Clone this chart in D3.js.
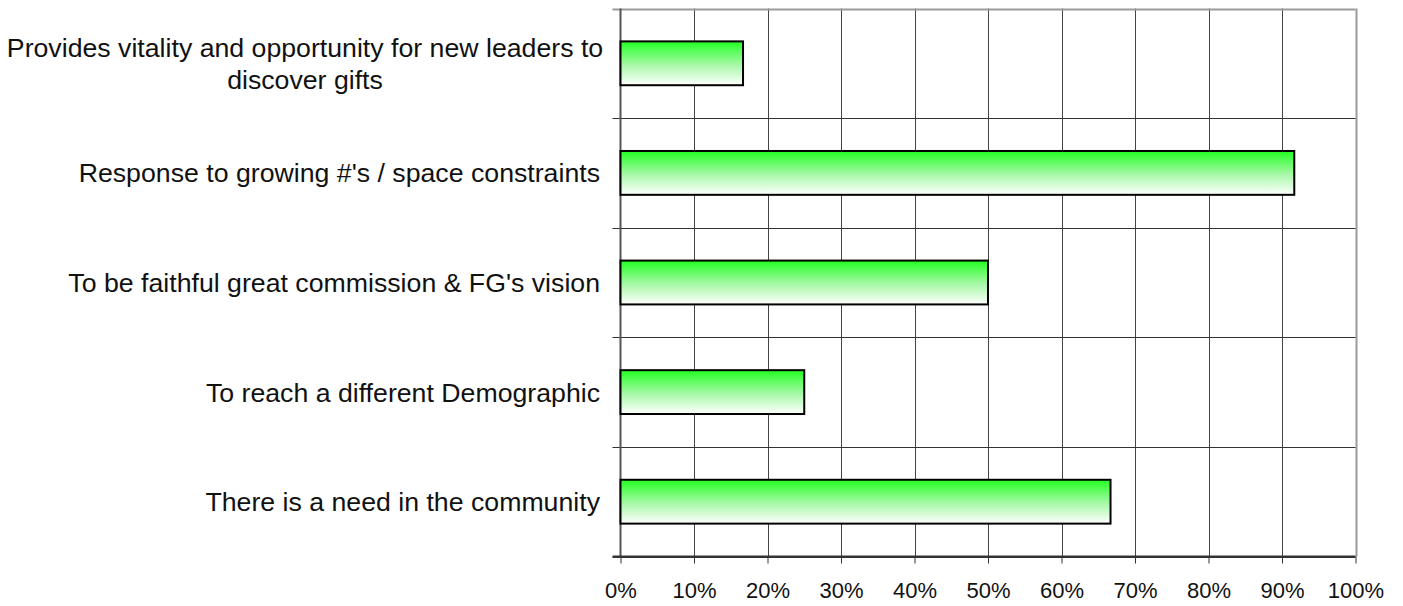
<!DOCTYPE html>
<html><head><meta charset="utf-8">
<script src="https://cdn.jsdelivr.net/npm/d3@7"></script>
<style>body{margin:0;background:#fff;font-family:"Liberation Sans",Arial,sans-serif;}</style>
</head><body><svg id="c" width="1403" height="606"></svg>
<script>
const categories = [
  ["Provides vitality and opportunity for new leaders to", "discover gifts"],
  ["Response to growing #'s / space constraints"],
  ["To be faithful great commission & FG's vision"],
  ["To reach a different Demographic"],
  ["There is a need in the community"]
];
const values = [0.1667, 0.9167, 0.5, 0.25, 0.6667];
const xTicks = [0,0.1,0.2,0.3,0.4,0.5,0.6,0.7,0.8,0.9,1.0];

const svg = d3.select("#c");
const L = 620.5, R = 1355.5, T = 8.5, B = 556.5;
const x = d3.scaleLinear().domain([0,1]).range([L,R]);
const y = d3.scaleBand().domain(d3.range(categories.length)).range([T,B]).paddingInner(0.6).paddingOuter(0.3);
const yb = d3.scaleBand().domain(d3.range(categories.length)).range([T,B]);

const defs = svg.append("defs");
const g = defs.append("linearGradient").attr("id","grad").attr("x1",0).attr("y1",0).attr("x2",0).attr("y2",1);
g.append("stop").attr("offset","0%").attr("stop-color","#22ff22");
g.append("stop").attr("offset","55%").attr("stop-color","#aaf8aa");
g.append("stop").attr("offset","100%").attr("stop-color","#ffffff");

// vertical gridlines
svg.append("g").selectAll("line").data(xTicks.slice(1)).join("line")
  .attr("x1",d=>Math.round(x(d))+0.5).attr("x2",d=>Math.round(x(d))+0.5)
  .attr("y1",T).attr("y2",B).attr("stroke",(d,i)=>d===1?"#999":"#444").attr("stroke-width",d=>d===1?2:1);
// horizontal gridlines at band boundaries
const bounds = d3.range(categories.length).map(i=>yb(i)).concat([B]);
svg.append("g").selectAll("line").data(bounds).join("line")
  .attr("x1",L-8).attr("x2",R)
  .attr("y1",d=>Math.round(d)+0.5).attr("y2",d=>Math.round(d)+0.5)
  .attr("stroke",(d,i)=>i===0?"#999":"#333").attr("stroke-width",(d,i)=>i===0?2:1);

// axes lines
svg.append("line").attr("x1",L).attr("x2",L).attr("y1",T).attr("y2",B).attr("stroke","#555").attr("stroke-width",2);
svg.append("line").attr("x1",L-8).attr("x2",R).attr("y1",B).attr("y2",B).attr("stroke","#333").attr("stroke-width",2);

// x axis ticks and labels
const xa = svg.append("g").attr("transform",`translate(0,${B})`)
  .call(d3.axisBottom(x).tickValues(xTicks).tickFormat(d3.format(".0%")).tickSize(7).tickPadding(19));
xa.select(".domain").remove();
xa.selectAll("line").attr("stroke","#333");
xa.selectAll("text").attr("font-size","22px").attr("font-family","Liberation Sans, Arial, sans-serif").attr("fill","#111");

// bars
svg.append("g").selectAll("rect").data(values).join("rect")
  .attr("x",x(0)).attr("y",(d,i)=>y(i)).attr("width",d=>x(d)-x(0)).attr("height",y.bandwidth())
  .attr("fill","url(#grad)").attr("stroke","#000").attr("stroke-width",2);

// category labels
const lab = svg.append("g").selectAll("text").data(categories).join("text")
  .attr("font-size","26.7px").attr("fill","#111")
  .attr("text-anchor",d=>d.length>1?"middle":"end")
  .attr("x",d=>d.length>1?305:600)
  .attr("y",(d,i)=>yb(i)+yb.bandwidth()/2);
lab.each(function(d){
  const t=d3.select(this); const n=d.length; const lh=32;
  d.forEach((s,k)=>t.append("tspan").attr("x",n>1?305:600).attr("dy",k===0?(-(n-1)*lh/2+9.5)+"px":lh+"px").text(s));
});
</script></body></html>
